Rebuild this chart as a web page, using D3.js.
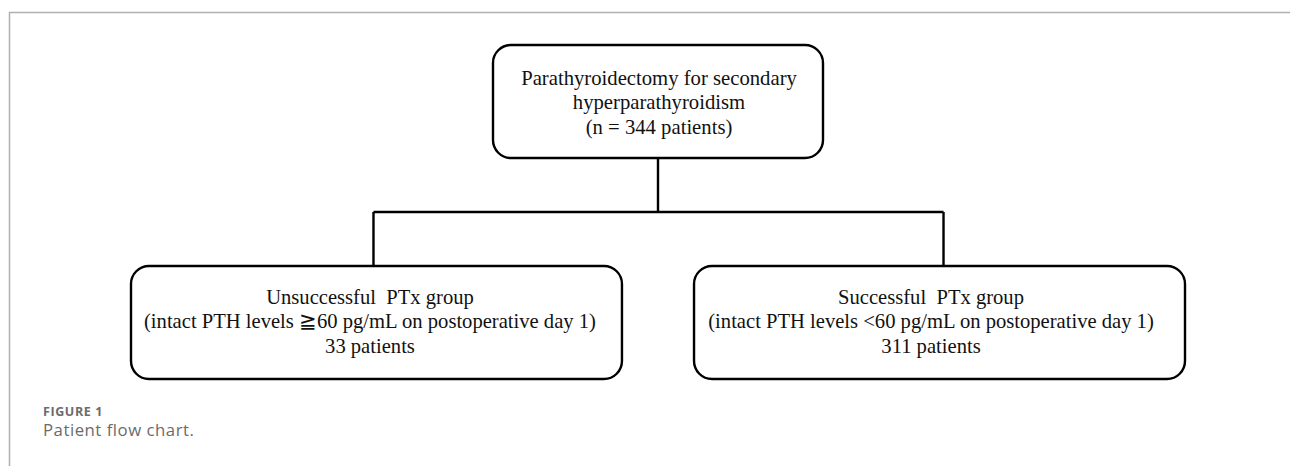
<!DOCTYPE html>
<html>
<head>
<meta charset="utf-8">
<script src="https://cdn.jsdelivr.net/npm/d3@7"></script>
<style>
  body { margin: 0; background: #fff; }
  svg text { white-space: pre; }
</style>
</head>
<body>
<svg id="chart" width="1290" height="466"></svg>
<script>
// flow chart content
const topLines = ["Parathyroidectomy for secondary", "hyperparathyroidism", "(n = 344 patients)"];
const groupNames = ["Unsuccessful  PTx group", "Successful  PTx group"];
const groupCriteria = [
  "(intact PTH levels \u226760 pg/mL on postoperative day 1)",
  "(intact PTH levels <60 pg/mL on postoperative day 1)"
];
const groupCounts = ["33 patients", "311 patients"];
const captionTitle = "FIGURE 1";
const captionText = "Patient flow chart.";

var svg = d3.select("#chart");
var serif = "'Liberation Serif', 'Times New Roman', serif";

// frame of the figure panel
svg.append("path")
  .attr("d", "M9.5,466 V12.5 H1290")
  .attr("fill", "none")
  .attr("stroke", "#b0b0b0")
  .attr("stroke-width", 1.5);

// horizontal layout of the two groups
var x = d3.scaleBand()
  .domain(d3.range(groupNames.length))
  .range([131, 1185])
  .paddingInner(0.128);

// vertical layout of the levels
var y = d3.scalePoint().domain(["top", "split", "groups"]).range([45, 266]);

var topW = 330, topH = 113, boxH = 113;
var topX = (x(0) + x.bandwidth() / 2 + x(1) + x.bandwidth() / 2) / 2;
var splitY = 212;

var g = svg.append("g");

// top box
g.append("rect")
  .attr("x", topX - topW / 2).attr("y", y("top"))
  .attr("width", topW).attr("height", topH)
  .attr("rx", 18).attr("ry", 18)
  .attr("fill", "#fff").attr("stroke", "#000").attr("stroke-width", 2.4);

g.selectAll(".topline")
  .data(topLines)
  .enter().append("text")
  .attr("class", "topline")
  .attr("x", topX + 1)
  .attr("y", function(d, i) { return y("top") + 39.5 + i * 24.5; })
  .attr("text-anchor", "middle")
  .attr("font-family", serif)
  .attr("font-size", "20.7px")
  .attr("fill", "#111")
  .text(function(d) { return d; });

// connectors
var cx = groupNames.map(function(d, i) { return x(i) + x.bandwidth() / 2; });
var conn = d3.path();
conn.moveTo(topX, y("top") + topH);
conn.lineTo(topX, splitY);
conn.moveTo(cx[0] - 3, splitY);
conn.lineTo(cx[1] + 4, splitY);
conn.moveTo(cx[0] - 3, splitY);
conn.lineTo(cx[0] - 3, y("groups"));
conn.moveTo(cx[1] + 4, splitY);
conn.lineTo(cx[1] + 4, y("groups"));
g.append("path")
  .attr("d", conn.toString())
  .attr("fill", "none")
  .attr("stroke", "#000")
  .attr("stroke-width", 2.4);

// group boxes
var boxes = g.selectAll(".group")
  .data(groupNames)
  .enter().append("g")
  .attr("class", "group")
  .attr("transform", function(d, i) { return "translate(" + x(i) + "," + y("groups") + ")"; });

boxes.append("rect")
  .attr("width", x.bandwidth()).attr("height", boxH)
  .attr("rx", 18).attr("ry", 18)
  .attr("fill", "#fff").attr("stroke", "#000").attr("stroke-width", 2.4);

boxes.each(function(d, i) {
  var lines = [groupNames[i], groupCriteria[i], groupCounts[i]];
  d3.select(this).selectAll("text")
    .data(lines)
    .enter().append("text")
    .attr("x", x.bandwidth() / 2 - (i === 0 ? 6.5 : 8.5))
    .attr("y", function(t, j) { return 37.5 + j * 24.5; })
    .attr("text-anchor", "middle")
    .attr("font-family", serif)
    .attr("font-size", "20.6px")
    .attr("fill", "#111")
    .text(function(t) { return t; });
});

// caption
svg.append("text")
  .attr("x", 43).attr("y", 416)
  .attr("font-family", "'Open Sans', 'Noto Sans', sans-serif")
  .attr("font-weight", "bold")
  .attr("font-size", "12.5px")
  .attr("letter-spacing", "0.6px")
  .attr("fill", "#6b6b6b")
  .text(captionTitle);

svg.append("text")
  .attr("x", 43).attr("y", 436)
  .attr("font-family", "'Open Sans', 'Noto Sans', sans-serif")
  .attr("font-size", "16.8px")
  .attr("letter-spacing", "0.5px")
  .attr("fill", "#6b6b6b")
  .text(captionText);
</script>
</body>
</html>
